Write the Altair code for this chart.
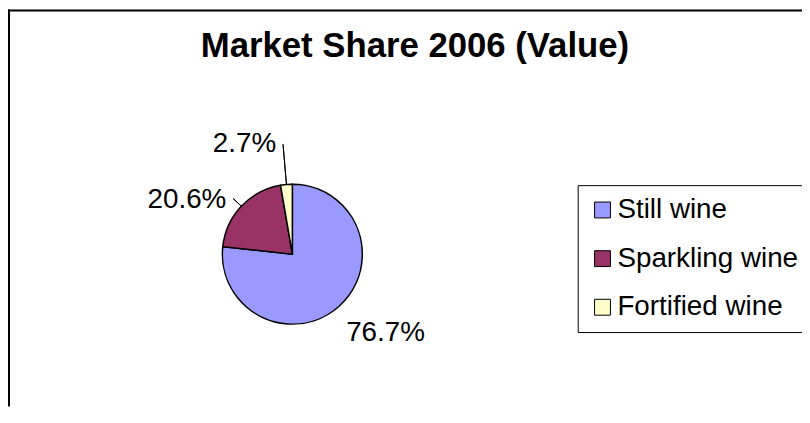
import math
import altair as alt
import pandas as pd

# ---- data ----
categories = ["Still wine", "Sparkling wine", "Fortified wine"]
values = [76.7, 20.6, 2.7]
colors = ["#9999FF", "#993366", "#FFFFCC"]
title_text = "Market Share 2006 (Value)"

total = sum(values)
starts, ends, mids = [], [], []
acc = 0.0
for v in values:
    s = acc / total * 2 * math.pi
    acc += v
    e = acc / total * 2 * math.pi
    starts.append(s)
    ends.append(e)
    mids.append((s + e) / 2)

df = pd.DataFrame({
    "category": categories,
    "value": values,
    "label": [f"{v:.1f}%" for v in values],
    "start": starts,
    "end": ends,
    "mid": mids,
})

FONT = "Liberation Sans"
CX, CY, R = 286.5, 246.5, 70.5

base = alt.Chart(df)

color = alt.Color(
    "category:N",
    scale=alt.Scale(domain=categories, range=colors),
    sort=categories,
    legend=alt.Legend(
        title=None,
        orient="none",
        legendX=574,
        legendY=177,
        padding=11,
        strokeColor="#000000",
        fillColor="#FFFFFF",
        symbolType="square",
        symbolSize=256,
        symbolStrokeColor="#000000",
        symbolStrokeWidth=1,
        labelFont=FONT,
        labelFontSize=28,
        labelColor="#000000",
        labelOffset=1,
        labelLimit=400,
        rowPadding=21,
    ),
)

pie = base.mark_arc(radius=R, stroke="#000000", strokeWidth=1.5).encode(
    theta=alt.Theta("start:Q", scale=None),
    theta2="end:Q",
    color=color,
    x=alt.value(CX),
    y=alt.value(CY),
)

label_offsets = {
    "Still wine": (13, -10),
    "Sparkling wine": (-18, 28),
    "Fortified wine": (-38, 10),
}

layers = [pie]

leader_radius = {"Sparkling wine": 82, "Fortified wine": 111}
for cat, rr in leader_radius.items():
    layers.append(
        base.transform_filter(alt.datum.category == cat)
        .transform_calculate(mid2="datum.mid + 0.0005")
        .mark_arc(radius=rr, radius2=R, stroke="#000000", strokeWidth=1,
                  fillOpacity=0)
        .encode(
            theta=alt.Theta("mid:Q", scale=None),
            theta2="mid2:Q",
            x=alt.value(CX),
            y=alt.value(CY),
        )
    )

for cat, (ddx, ddy) in label_offsets.items():
    layers.append(
        base.transform_filter(alt.datum.category == cat)
        .mark_text(radius=121, dx=ddx, dy=ddy, font=FONT, fontSize=28,
                   color="#000000", align="center", baseline="middle")
        .encode(
            theta=alt.Theta("mid:Q", scale=None),
            text="label:N",
            x=alt.value(CX),
            y=alt.value(CY),
        )
    )

frame_df = pd.DataFrame({"k": [0]})
left_line = alt.Chart(frame_df).mark_rule(color="#000000", strokeWidth=2).encode(
    x=alt.value(1), y=alt.value(0), y2=alt.value(400)
)
top_line = alt.Chart(frame_df).mark_rule(color="#000000", strokeWidth=2).encode(
    x=alt.value(0), x2=alt.value(800), y=alt.value(1)
)
layers += [left_line, top_line]

chart = alt.layer(*layers).properties(
    width=800,
    height=400,
    autosize=alt.AutoSizeParams(type="none"),
    padding=0,
    title=alt.TitleParams(
        title_text,
        font=FONT,
        fontSize=35,
        fontWeight="bold",
        color="#000000",
        anchor="middle",
        frame="group",
        baseline="alphabetic",
        offset=-50,
        dx=10,
        dy=34,
    ),
).configure_view(strokeWidth=0)

chart.save("out.html", embed_options={"renderer": "svg", "actions": False})
